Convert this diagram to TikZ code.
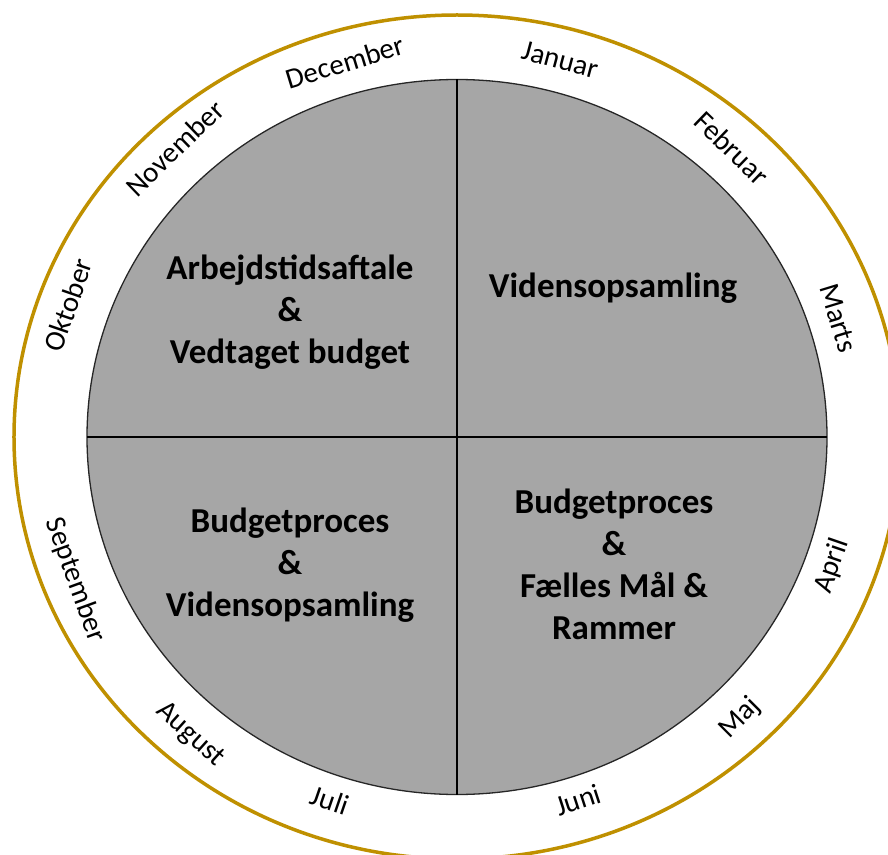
\documentclass[tikz,border=0pt]{standalone}
\usepackage{fontspec}
\setmainfont{Carlito}
\usetikzlibrary{shapes.geometric}
\definecolor{ringgold}{HTML}{BF9000}
\definecolor{wheelgrey}{HTML}{A6A6A6}

\begin{document}
\begin{tikzpicture}[x=1pt,y=1pt,
  ringline/.style={ellipse,draw=ringgold,line width=3.5pt,inner sep=0pt,outer sep=0pt},
  wheelfill/.style={ellipse,draw=black!85,fill=wheelgrey,line width=1.3pt,inner sep=0pt,outer sep=0pt},
  divider/.style={line width=2.4pt,black},
  quarter/.style={align=center,font=\fontsize{35}{42}\selectfont\bfseries},
  month/.style={font=\fontsize{29}{34}\selectfont,inner sep=0pt}]
\useasboundingbox (-457,-417) rectangle (431,437);

\node[ringline,minimum width=886pt,minimum height=844pt] (ring) at (0,0) {};
\node[wheelfill,minimum width=740pt,minimum height=715pt] (wheel) at (0,0) {};

\draw[divider] (wheel.north) -- (wheel.south);
\draw[divider] (wheel.west) -- (wheel.east);

\node[quarter] (q1) at (-167,125) {Arbejdstidsaftale\\\&\\Vedtaget budget};
\node[quarter] (q2) at (156,149) {Vidensopsamling};
\node[quarter] (q3) at (-167,-128) {Budgetproces\\\&\\Vidensopsamling};
\node[quarter] (q4) at (157,-127) {Budgetproces\\\&\\Fælles Mål \&\\Rammer};

\node[month,rotate=-15] (jan) at (103,377) {Januar};
\node[month,rotate=-44] (feb) at (275,289) {Februar};
\node[month,rotate=-73] (mar) at (381,119) {Marts};
\node[month,rotate=71] (apr) at (375,-129) {April};
\node[month,rotate=45] (maj) at (283,-281) {Maj};
\node[month,rotate=18] (jun) at (121,-363) {Juni};
\node[month,rotate=-19] (jul) at (-127,-363) {Juli};
\node[month,rotate=-42] (aug) at (-267,-298) {August};
\node[month,rotate=-70] (sep) at (-382,-143) {September};
\node[month,rotate=71] (okt) at (-389,132) {Oktober};
\node[month,rotate=44] (nov) at (-282,289) {November};
\node[month,rotate=17] (dec) at (-112,375) {December};
\end{tikzpicture}
\end{document}
